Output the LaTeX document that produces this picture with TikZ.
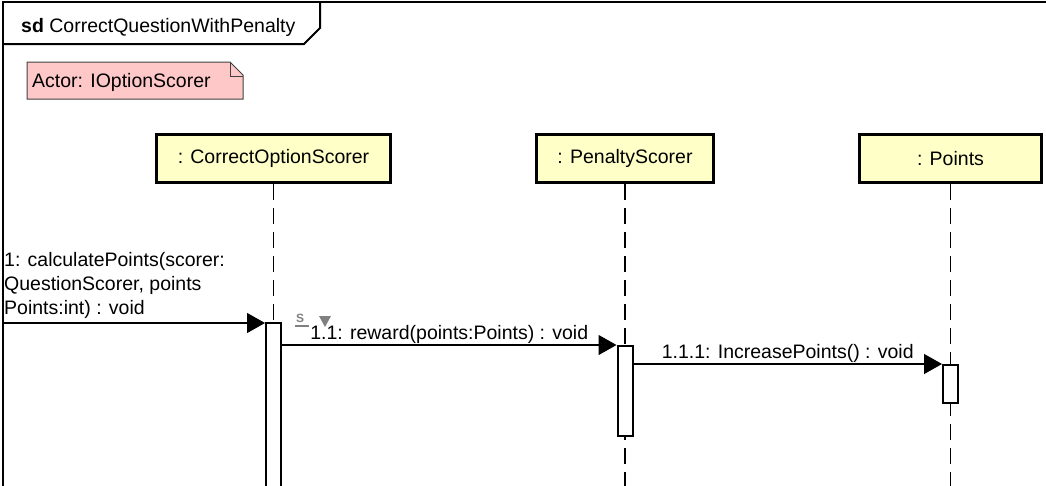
\documentclass[tikz,border=0pt]{standalone}
\usepackage{fontspec}
\setmainfont{Liberation Sans}
\usetikzlibrary{arrows.meta}
\definecolor{headfill}{RGB}{255,255,200}
\definecolor{notefill}{RGB}{255,200,200}
\tikzset{head/.style= {draw, fill=headfill, line width=2.8pt, minimum height=48pt, inner sep=0pt},
  bar/.style= {draw, fill=white, line width=2pt, minimum width=15pt, inner sep=0pt},
  life/.style= {line width=1.5pt, dash pattern=on 16pt off 8pt},
  msg/.style= {line width=1.3pt, -{Triangle[length=18pt, width=20pt]}},
  lbl/.style= {anchor=base, inner sep=0pt, yshift=6pt},
  frame/.style= {line width=2pt}}

\begin{document}
\begin{tikzpicture}[x=1pt, y=-1pt, font=\fontsize{19.5}{24}\selectfont]
        \useasboundingbox (0,0) rectangle (1046,485);

        \draw[frame](1046,2)--(3,2)--(3,486);
        \draw[frame](3,44)--(304,44)--(320,28)--(320,2);
        \node[anchor=base west, inner sep=0pt](title)at(21,32){\textbf{sd} CorrectQuestionWithPenalty};

        \draw[black!75, fill=notefill, line width=1pt](27,62)--(230,62)--(243,75)--(243,99)--(27,99)--cycle;
        \draw[black!75, line width=1pt](230,62)--(230,76)--(243,76);
        \node[anchor=base west, inner sep=0pt](actor)at(32,87){Actor: IOptionScorer};

        \node[head, minimum width=234pt](cos)at(273.5,158.5){: CorrectOptionScorer};
        \node[head, minimum width=177pt](ps)at(625,158.5){: PenaltyScorer};
        \node[head, minimum width=182pt](pts)at(950.5,158.5){: Points};

        \draw[life](cos.south)--++(0,305);
        \draw[life](ps.south)--++(0,305);
        \draw[life](pts.south)--++(0,305);

        \node[bar, minimum height=170pt](cbar)at(273.5,408){};
        \node[bar, minimum height=90pt](pbar)at(625,391){};
        \node[bar, minimum height=38pt](tbar)at(950.5,384){};

        \coordinate(caller)at(3,323);
        \draw[msg](caller)--(caller -| cbar.west);
        \node[anchor=base west, align=left, inner sep=0pt](m1)at(4,314){1: calculatePoints(scorer:\\QuestionScorer, points\\Points:int) : void};

        \draw[msg](cbar.east |- pbar.north)--(pbar.north west)
            node[lbl, midway](m11){1.1: reward(points:Points) : void};
        \draw[msg](pbar.east |- tbar.north)--(tbar.north west)
            node[lbl, midway](m111){1.1.1: IncreasePoints() : void};

        \node[gray, font=\fontsize{12}{12}\selectfont\bfseries, inner sep=0pt](sicon)at(300,318){S};
        \draw[gray, line width=1.5pt](295,326)--(309,326);
        \fill[gray](319,316)--(331,316)--(325,327)--cycle;
    \end{tikzpicture}
\end{document}
